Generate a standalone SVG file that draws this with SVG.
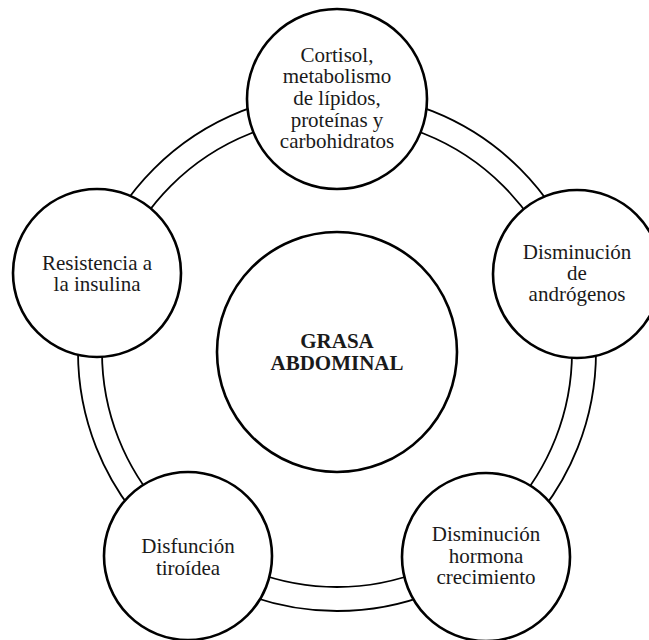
<svg xmlns="http://www.w3.org/2000/svg" width="649" height="640" viewBox="0 0 649 640">
<style>
.ring{fill:none;stroke:#000;stroke-width:1.8}
.node{fill:#fff;stroke:#000;stroke-width:2.6}
text{font-family:"Liberation Serif","Times New Roman",serif;font-size:21px;fill:#1a1a1a;text-anchor:middle}
.b{font-weight:bold}
</style>
<rect width="649" height="640" fill="#fff"/>
<g id="connectors">
<circle class="ring" cx="337" cy="352" r="259"/>
<circle class="ring" cx="337" cy="352" r="235"/>
</g>
<g id="center">
<circle class="node" cx="337" cy="352" r="120"/>
<text class="b" x="337" y="348">GRASA</text>
<text class="b" x="337" y="369.5">ABDOMINAL</text>
</g>
<g id="top">
<circle class="node" cx="337" cy="99" r="90"/>
<text x="337" y="61.7">Cortisol,</text>
<text x="337" y="83.3">metabolismo</text>
<text x="337" y="105">de lípidos,</text>
<text x="337" y="126.7">proteínas y</text>
<text x="337" y="148.3">carbohidratos</text>
</g>
<g id="right">
<circle class="node" cx="577" cy="274" r="84"/>
<text x="577" y="259">Disminución</text>
<text x="577" y="280">de</text>
<text x="577" y="301">andrógenos</text>
</g>
<g id="bottomright">
<circle class="node" cx="486" cy="557" r="84"/>
<text x="486" y="541">Disminución</text>
<text x="486" y="562.5">hormona</text>
<text x="486" y="584">crecimiento</text>
</g>
<g id="bottomleft">
<circle class="node" cx="188" cy="556" r="84"/>
<text x="188" y="553">Disfunción</text>
<text x="188" y="574.5">tiroídea</text>
</g>
<g id="left">
<circle class="node" cx="97" cy="273" r="84"/>
<text x="97" y="270">Resistencia a</text>
<text x="97" y="291">la insulina</text>
</g>
</svg>
